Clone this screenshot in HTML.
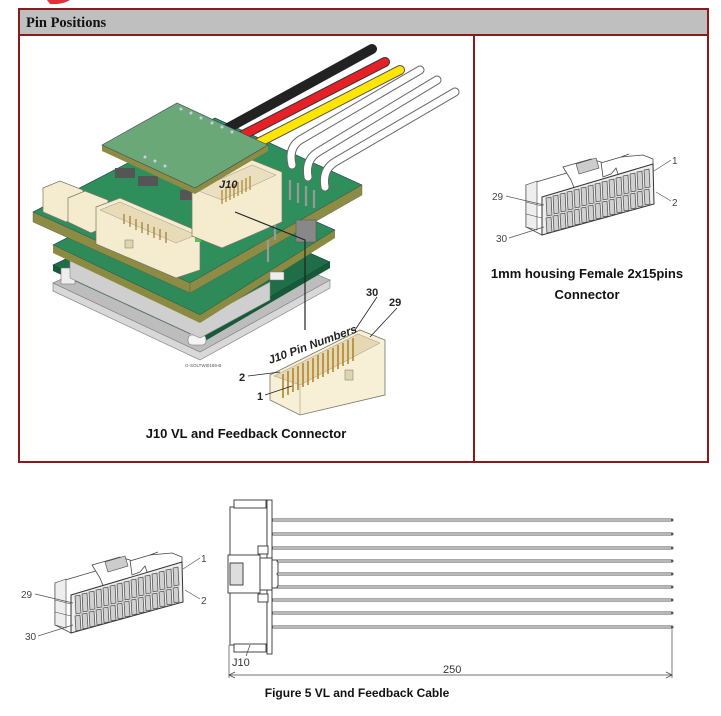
<!DOCTYPE html>
<html><head><meta charset="utf-8"><style>
html,body{margin:0;padding:0;background:#fff;}
svg{display:block;}
text{font-family:"Liberation Sans",sans-serif;}
</style></head><body>
<svg width="721" height="716" viewBox="0 0 721 716" xmlns="http://www.w3.org/2000/svg">
<defs>
<g id="conn">
  <polygon points="55,583 150,555 172,553 182,557 182,562 71,595 71,633 55,625" fill="#fff" stroke="#444" stroke-width="0.8"/>
  <polygon points="55,583 66,579 66,628 55,625" fill="#eee" stroke="#444" stroke-width="0.6"/>
  <line x1="55" y1="600" x2="71" y2="604" stroke="#444" stroke-width="0.6"/>
  <line x1="55" y1="612" x2="71" y2="616" stroke="#444" stroke-width="0.6"/>
  <polygon points="92,565 120,557 130,560 132,575 140,572 145,566 148,575 104,588 100,578" fill="#fff" stroke="#444" stroke-width="0.8"/>
  <polygon points="105,562 125,556 128,566 108,572" fill="#ccc" stroke="#444" stroke-width="0.6"/>
  <line x1="150" y1="555" x2="158" y2="552" stroke="#444" stroke-width="0.8"/>
  <polygon points="71,595 182,562 183,602 71,633" fill="#eee" stroke="#333" stroke-width="1"/>
  <g fill="#d0d0d0" stroke="#444" stroke-width="0.7">
    <polygon points="75,596 76,614 81,613 80,595"/><polygon points="82,594 83,612 88,611 87,593"/><polygon points="89,592 90,610 95,609 94,591"/><polygon points="96,590 97,608 102,607 101,589"/><polygon points="103,588 104,606 109,605 108,587"/><polygon points="110,586 111,604 116,603 115,585"/><polygon points="117,584 118,602 123,601 122,583"/><polygon points="124,582 125,600 130,599 129,581"/><polygon points="131,580 132,598 137,597 136,579"/><polygon points="138,578 139,596 144,595 143,577"/><polygon points="145,576 146,594 151,593 150,575"/><polygon points="152,574 153,592 158,591 157,573"/><polygon points="159,572 160,590 165,589 164,571"/><polygon points="166,570 167,588 172,587 171,569"/><polygon points="173,568 174,586 179,585 178,567"/>
    <polygon points="75,616 76,631 81,630 80,615"/><polygon points="82,614 83,629 88,628 87,613"/><polygon points="89,612 90,627 95,626 94,611"/><polygon points="96,610 97,625 102,624 101,609"/><polygon points="103,608 104,623 109,622 108,607"/><polygon points="110,606 111,621 116,620 115,605"/><polygon points="117,604 118,619 123,618 122,603"/><polygon points="124,602 125,617 130,616 129,601"/><polygon points="131,600 132,615 137,614 136,599"/><polygon points="138,598 139,613 144,612 143,597"/><polygon points="145,596 146,611 151,610 150,595"/><polygon points="152,594 153,609 158,608 157,593"/><polygon points="159,592 160,607 165,606 164,591"/><polygon points="166,590 167,605 172,604 171,589"/><polygon points="173,588 174,603 179,602 178,587"/>
  </g>
  <g stroke="#555" stroke-width="0.7" fill="none">
    <line x1="200" y1="558" x2="183" y2="569"/>
    <line x1="185" y1="590" x2="200" y2="599"/>
    <line x1="35" y1="594" x2="73" y2="603"/>
    <line x1="38" y1="636" x2="73" y2="625"/>
  </g>
  <g font-size="10" fill="#444">
    <text x="201" y="562">1</text>
    <text x="201" y="604">2</text>
    <text x="21" y="598">29</text>
    <text x="25" y="640">30</text>
  </g>
</g>
</defs>

<path d="M47,0 L70,0 Q62,5 50,4 Z" fill="#e0303a"/>

<rect x="19" y="9" width="689" height="453" fill="#fff" stroke="#8b1a1a" stroke-width="2"/>
<rect x="20" y="10" width="687" height="24" fill="#bfbfbf"/>
<line x1="19" y1="35" x2="708" y2="35" stroke="#8b1a1a" stroke-width="2"/>
<line x1="474" y1="35" x2="474" y2="462" stroke="#8b1a1a" stroke-width="2"/>
<text x="26" y="27" font-weight="bold" font-size="14.5" fill="#111" style="font-family:'Liberation Serif',serif">Pin Positions</text>

<polygon points="53,283 200,352 330,280 330,288 200,360 53,291" fill="#d8d8d8" stroke="#888" stroke-width="0.7"/>
<polygon points="53,283 190,220 330,280 200,352" fill="#bdbdbd" stroke="#888" stroke-width="0.7"/>
<polygon points="53,265 190,200 330,262 205,335" fill="#1f6e48" stroke="#134" stroke-width="0.6"/>
<polygon points="53,265 205,335 205,341 53,271" fill="#165a3a"/>
<polygon points="205,335 330,262 330,268 205,341" fill="#165a3a"/>
<rect x="61" y="268" width="14" height="16" fill="#eee" stroke="#777" stroke-width="0.6"/>
<rect x="190" y="318" width="14" height="24" fill="#eee" stroke="#777" stroke-width="0.6"/>
<rect x="188" y="335" width="18" height="10" rx="4" fill="#f4f4f4" stroke="#777" stroke-width="0.6"/>
<polygon points="70,260 200,320 270,282 270,300 200,338 70,278" fill="#cfcfcf" stroke="#888" stroke-width="0.6"/>
<polygon points="53,245 200,170 335,230 200,315" fill="#2e8a58" stroke="#135" stroke-width="0.6"/>
<polygon points="53,245 200,315 200,323 53,253" fill="#8a8a40"/>
<polygon points="200,315 335,230 335,238 200,323" fill="#8a8a40"/>
<polygon points="33,212 215,118 362,185 190,283" fill="#2f8f5c" stroke="#134" stroke-width="0.6"/>
<polygon points="33,212 190,283 190,293 33,222" fill="#8c8c45" stroke="#555" stroke-width="0.4"/>
<polygon points="190,283 362,185 362,195 190,293" fill="#8c8c45" stroke="#555" stroke-width="0.4"/>
<polygon points="43,188 60,181 83,190 83,215 66,222 43,212" fill="#f5ecd0" stroke="#776" stroke-width="0.7"/>
<polygon points="68,198 85,191 108,200 108,226 91,233 68,222" fill="#f5ecd0" stroke="#776" stroke-width="0.7"/>
<polygon points="96,207 120,198 200,232 200,270 176,278 96,244" fill="#f5ecd0" stroke="#776" stroke-width="0.7"/>
<polygon points="100,210 120,202 196,235 176,243" fill="#e8dcb8" stroke="#998" stroke-width="0.5"/>
<g stroke="#a07a30" stroke-width="1.2">
<line x1="124" y1="214" x2="124" y2="224"/><line x1="130" y1="216" x2="130" y2="227"/><line x1="136" y1="219" x2="136" y2="230"/><line x1="142" y1="222" x2="142" y2="233"/><line x1="148" y1="224" x2="148" y2="235"/><line x1="154" y1="227" x2="154" y2="238"/><line x1="160" y1="229" x2="160" y2="240"/><line x1="166" y1="232" x2="166" y2="243"/>
</g>
<rect x="125" y="240" width="8" height="8" fill="#e0d4b0" stroke="#776" stroke-width="0.5"/>
<rect x="115" y="168" width="20" height="10" fill="#555"/>
<rect x="138" y="176" width="20" height="10" fill="#555"/>
<rect x="180" y="190" width="20" height="10" fill="#555"/>
<rect x="195" y="237" width="6" height="5" fill="#4ec94e"/>
<rect x="205" y="232" width="6" height="5" fill="#4ec94e"/>
<g stroke="#999" stroke-width="2.2">
<line x1="290" y1="180" x2="290" y2="200"/><line x1="298" y1="183" x2="298" y2="203"/><line x1="306" y1="186" x2="306" y2="206"/><line x1="314" y1="190" x2="314" y2="208"/><line x1="275" y1="215" x2="275" y2="240"/><line x1="268" y1="240" x2="268" y2="262"/>
</g>
<rect x="296" y="220" width="20" height="22" fill="#888" stroke="#555" stroke-width="0.5"/>
<rect x="270" y="272" width="14" height="8" fill="#eee" stroke="#777" stroke-width="0.5"/>
<polygon points="192,186 252,160 282,172 282,222 222,248 192,236" fill="#f5ecd0" stroke="#776" stroke-width="0.7"/>
<polygon points="196,190 252,165 276,175 222,200" fill="#eadfbf" stroke="#998" stroke-width="0.5"/>
<g stroke="#b08a3a" stroke-width="1.3">
<line x1="222" y1="190" x2="222" y2="204"/><line x1="226" y1="188" x2="226" y2="202"/><line x1="230" y1="186" x2="230" y2="200"/><line x1="234" y1="184" x2="234" y2="198"/><line x1="238" y1="182" x2="238" y2="196"/><line x1="242" y1="180" x2="242" y2="194"/><line x1="246" y1="178" x2="246" y2="192"/><line x1="250" y1="176" x2="250" y2="190"/>
</g>
<text x="219" y="188" font-size="11" font-weight="bold" fill="#222" font-style="italic">J10</text>
<g fill="none" stroke-linecap="round">
  <path d="M228,128 L372,49" stroke="#222" stroke-width="10"/>
  <path d="M243,135 L385,62" stroke="#333" stroke-width="10"/><path d="M243,135 L385,62" stroke="#e52027" stroke-width="8"/>
  <path d="M258,143 L400,70" stroke="#555" stroke-width="10"/><path d="M258,143 L400,70" stroke="#ffe600" stroke-width="8"/>
  <path d="M420,70 L300,140 Q288,148 292,165" stroke="#666" stroke-width="9"/><path d="M420,70 L300,140 Q288,148 292,165" stroke="#fff" stroke-width="7"/>
  <path d="M437,80 L318,152 Q305,160 308,177" stroke="#666" stroke-width="9"/><path d="M437,80 L318,152 Q305,160 308,177" stroke="#fff" stroke-width="7"/>
  <path d="M455,92 L335,162 Q322,170 325,187" stroke="#666" stroke-width="9"/><path d="M455,92 L335,162 Q322,170 325,187" stroke="#fff" stroke-width="7"/>
</g>
<polygon points="102,145 195,188 195,194 102,151" fill="#8c8c45"/>
<polygon points="195,188 268,145 268,151 195,194" fill="#8c8c45"/>
<polygon points="102,145 177,103 268,145 195,188" fill="#6aa878" stroke="#445" stroke-width="0.6"/>
<g fill="#cce">
<circle cx="181" cy="109" r="1.5"/><circle cx="191" cy="113" r="1.5"/><circle cx="201" cy="118" r="1.5"/><circle cx="212" cy="123" r="1.5"/><circle cx="222" cy="127" r="1.5"/><circle cx="232" cy="132" r="1.5"/>
<circle cx="145" cy="157" r="1.5"/><circle cx="155" cy="161" r="1.5"/><circle cx="165" cy="166" r="1.5"/>
</g>
<polyline points="235,212 305,240 305,330" fill="none" stroke="#222" stroke-width="1.2"/>
<polygon points="270,375 360,330 385,340 385,395 300,415 270,400" fill="#f7efd6" stroke="#776" stroke-width="0.8"/>
<polygon points="274,376 358,334 380,343 300,385" fill="#e5d8b2" stroke="#998" stroke-width="0.5"/>
<g stroke="#b0852e" stroke-width="1.6">
<line x1="283" y1="374" x2="283" y2="398"/><line x1="288" y1="371" x2="288" y2="395"/><line x1="293" y1="368" x2="293" y2="392"/><line x1="298" y1="366" x2="298" y2="390"/><line x1="303" y1="363" x2="303" y2="387"/><line x1="308" y1="361" x2="308" y2="385"/><line x1="313" y1="358" x2="313" y2="382"/><line x1="318" y1="355" x2="318" y2="379"/><line x1="323" y1="353" x2="323" y2="377"/><line x1="328" y1="350" x2="328" y2="374"/><line x1="333" y1="348" x2="333" y2="372"/><line x1="338" y1="345" x2="338" y2="369"/><line x1="343" y1="343" x2="343" y2="366"/><line x1="348" y1="340" x2="348" y2="364"/><line x1="353" y1="338" x2="353" y2="361"/>
</g>
<line x1="300" y1="385" x2="300" y2="415" stroke="#998" stroke-width="0.6"/>
<rect x="345" y="370" width="8" height="10" fill="#e0d4b0" stroke="#776" stroke-width="0.5"/>
<g stroke="#222" stroke-width="0.8">
<line x1="377" y1="297" x2="355" y2="330"/><line x1="397" y1="308" x2="370" y2="337"/>
<line x1="248" y1="376" x2="280" y2="372"/><line x1="265" y1="395" x2="292" y2="386"/>
</g>
<g font-size="11" font-weight="bold" fill="#222">
<text x="366" y="296">30</text><text x="389" y="306">29</text>
<text x="239" y="381">2</text><text x="257" y="400">1</text>
</g>
<text x="270" y="364" font-size="11.5" font-weight="bold" font-style="italic" fill="#222" transform="rotate(-20 270 364)">J10 Pin Numbers</text>
<text x="185" y="367" font-size="4.5" fill="#555">G-SOLTWI0189-B</text>

<text x="246" y="438" font-size="13" font-weight="bold" fill="#111" text-anchor="middle">J10 VL and Feedback Connector</text>

<use href="#conn" transform="translate(471,-398)"/>
<text x="587" y="278" font-size="13" font-weight="bold" fill="#111" text-anchor="middle">1mm housing Female 2x15pins</text>
<text x="587" y="299" font-size="13" font-weight="bold" fill="#111" text-anchor="middle">Connector</text>

<use href="#conn"/>

<g fill="#fff" stroke="#333" stroke-width="0.9">
  <rect x="230" y="507" width="37" height="138"/>
  <rect x="234" y="500" width="32" height="8"/>
  <rect x="234" y="644" width="32" height="8"/>
  <rect x="267" y="500" width="5" height="154"/>
  <rect x="228" y="555" width="32" height="38"/>
  <rect x="260" y="558" width="12" height="32"/>
  <rect x="272" y="560" width="6" height="28"/>
  <rect x="230" y="563" width="13" height="22" fill="#ddd"/>
  <rect x="258" y="546" width="10" height="8"/>
  <rect x="258" y="594" width="10" height="8"/>
</g>
<g stroke="#555" stroke-width="3" stroke-linecap="round">
  <line x1="273" y1="520" x2="672" y2="520"/><line x1="273" y1="534" x2="672" y2="534"/><line x1="273" y1="548" x2="672" y2="548"/><line x1="278" y1="561" x2="672" y2="561"/><line x1="278" y1="574" x2="672" y2="574"/><line x1="278" y1="587" x2="672" y2="587"/><line x1="273" y1="600" x2="672" y2="600"/><line x1="273" y1="613" x2="672" y2="613"/><line x1="273" y1="627" x2="672" y2="627"/>
</g>
<g stroke="#f4f4f4" stroke-width="1.2">
  <line x1="273" y1="520" x2="671" y2="520"/><line x1="273" y1="534" x2="671" y2="534"/><line x1="273" y1="548" x2="671" y2="548"/><line x1="278" y1="561" x2="671" y2="561"/><line x1="278" y1="574" x2="671" y2="574"/><line x1="278" y1="587" x2="671" y2="587"/><line x1="273" y1="600" x2="671" y2="600"/><line x1="273" y1="613" x2="671" y2="613"/><line x1="273" y1="627" x2="671" y2="627"/>
</g>
<g stroke="#444" stroke-width="0.7" fill="none">
  <line x1="229" y1="645" x2="229" y2="678"/>
  <line x1="672" y1="628" x2="672" y2="678"/>
  <line x1="229" y1="675" x2="672" y2="675"/>
  <polyline points="235,672 229,675 235,678"/>
  <polyline points="666,672 672,675 666,678"/>
  <line x1="250" y1="645" x2="246" y2="656"/>
</g>
<text x="232" y="666" font-size="11" fill="#333">J10</text>
<text x="443" y="673" font-size="11" fill="#333">250</text>

<text x="357" y="697" font-size="12" font-weight="bold" fill="#111" text-anchor="middle">Figure 5 VL and Feedback Cable</text>
</svg>
</body></html>
